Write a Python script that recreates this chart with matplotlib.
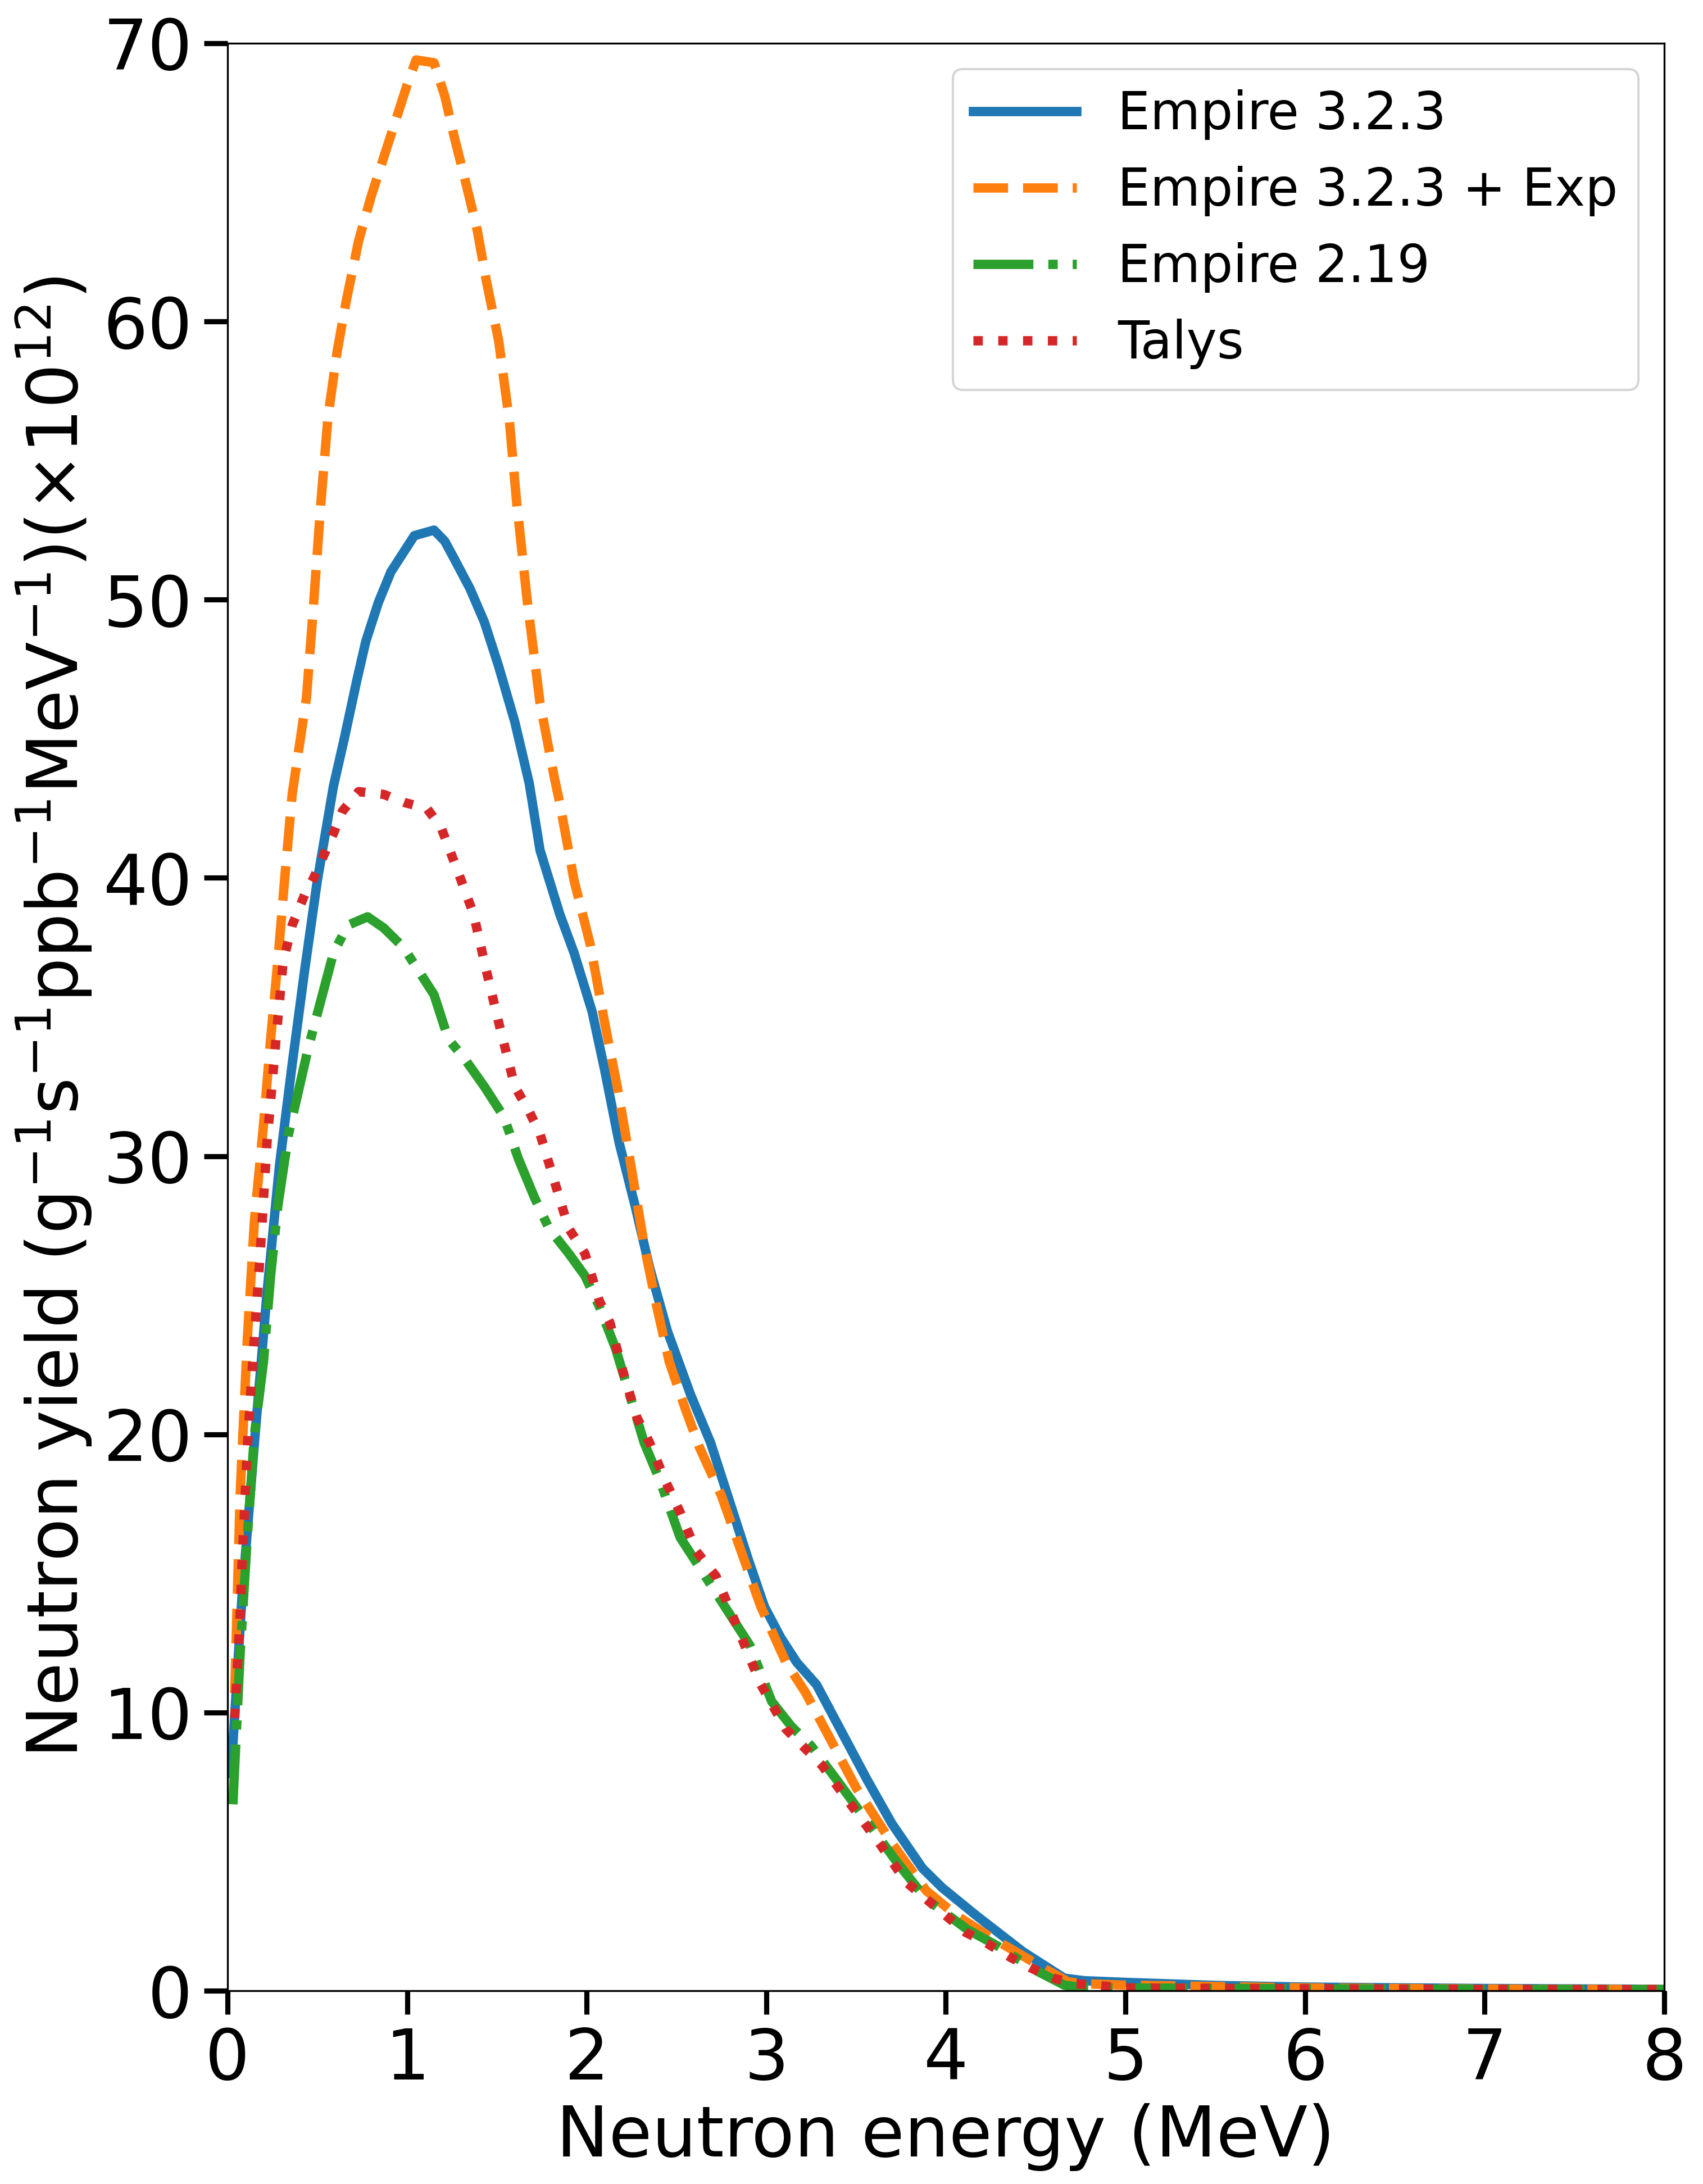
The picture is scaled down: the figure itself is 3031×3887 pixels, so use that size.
import matplotlib
matplotlib.use("Agg")
import matplotlib.pyplot as plt

# Empire 3.2.3
e_emp323 = [0.02, 0.08, 0.15, 0.22, 0.29, 0.36, 0.43, 0.50, 0.59, 0.65,
            0.72, 0.77, 0.84, 0.91, 0.98, 1.04, 1.15, 1.21, 1.26, 1.35,
            1.43, 1.51, 1.60, 1.68, 1.74, 1.85, 1.93, 2.03, 2.10, 2.18,
            2.27, 2.35, 2.45, 2.58, 2.69, 2.80, 2.90, 2.99, 3.08, 3.17,
            3.28, 3.42, 3.56, 3.70, 3.87, 3.98, 4.17, 4.31, 4.43, 4.66,
            4.77, 5.0, 5.5, 6.0, 7.0, 8.0]
y_emp323 = [7.8, 14.1, 19.7, 25.1, 29.7, 33.3, 36.7, 39.9, 43.3, 45.0,
            47.1, 48.5, 49.9, 51.0, 51.7, 52.3, 52.5, 52.1, 51.5, 50.4,
            49.2, 47.6, 45.6, 43.4, 41.0, 38.7, 37.3, 35.2, 33.1, 30.5,
            28.2, 26.0, 23.7, 21.4, 19.7, 17.5, 15.5, 13.8, 12.7, 11.8,
            11.0, 9.3, 7.6, 6.0, 4.4, 3.7, 2.7, 2.0, 1.4, 0.45,
            0.36, 0.3, 0.19, 0.13, 0.08, 0.05]

# Empire 3.2.3 + Exp
e_emp323exp = [0.04, 0.07, 0.11, 0.15, 0.20, 0.24, 0.28, 0.32, 0.36, 0.44,
               0.48, 0.52, 0.56, 0.61, 0.66, 0.73, 0.80, 0.90, 1.00, 1.05,
               1.15, 1.21, 1.26, 1.33, 1.39, 1.44, 1.51, 1.57, 1.61, 1.67,
               1.74, 1.82, 1.85, 1.93, 2.02, 2.10, 2.17, 2.24, 2.32, 2.39,
               2.46, 2.55, 2.63, 2.75, 2.86, 2.97, 3.11, 3.22, 3.36, 3.50,
               3.70, 3.89, 4.06, 4.23, 4.31, 4.54, 4.68, 4.77, 5.0, 6.0,
               7.0, 8.0]
y_emp323exp = [10.7, 17.8, 23.4, 27.7, 31.1, 34.2, 37.0, 40.1, 43.0, 46.5,
               49.9, 53.5, 56.6, 58.9, 60.7, 62.9, 64.5, 66.5, 68.5, 69.4,
               69.3, 68.1, 66.7, 64.9, 63.3, 61.5, 59.3, 56.4, 53.5, 49.9,
               46.3, 43.6, 42.7, 39.9, 37.6, 34.8, 32.5, 29.9, 26.8, 24.6,
               22.6, 20.9, 19.5, 17.8, 15.8, 13.8, 11.8, 10.7, 9.0, 7.3,
               5.3, 3.6, 2.7, 2.0, 1.7, 0.83, 0.32, 0.25, 0.2, 0.1,
               0.06, 0.04]

# Empire 2.19
e_emp219 = [0.03, 0.07, 0.11, 0.15, 0.20, 0.24, 0.28, 0.34, 0.39, 0.45,
            0.52, 0.59, 0.67, 0.78, 0.87, 0.98, 1.06, 1.15, 1.23, 1.32,
            1.43, 1.54, 1.62, 1.71, 1.79, 1.90, 1.99, 2.07, 2.16, 2.24,
            2.32, 2.41, 2.52, 2.63, 2.77, 2.91, 3.03, 3.14, 3.25, 3.39,
            3.56, 3.73, 3.89, 4.12, 4.29, 4.51, 4.66, 4.74, 5.0, 6.0,
            7.0, 8.0]
y_emp219 = [6.7, 12.1, 16.3, 20.0, 22.6, 25.7, 28.2, 30.8, 32.2, 33.9,
            35.6, 37.3, 38.3, 38.6, 38.2, 37.5, 36.7, 35.8, 34.2, 33.5,
            32.5, 31.4, 29.9, 28.5, 27.4, 26.5, 25.7, 24.6, 23.1, 21.4,
            19.7, 18.3, 16.3, 15.2, 13.8, 12.4, 10.4, 9.5, 8.8, 7.6,
            6.1, 4.6, 3.3, 2.2, 1.6, 0.7, 0.2, 0.13, 0.1, 0.07,
            0.05, 0.04]

# Talys
e_talys = [0.04, 0.07, 0.08, 0.11, 0.14, 0.18, 0.22, 0.27, 0.31, 0.36,
           0.43, 0.48, 0.59, 0.64, 0.73, 0.87, 0.99, 1.11, 1.19, 1.29,
           1.37, 1.44, 1.51, 1.60, 1.68, 1.74, 1.82, 1.90, 1.99, 2.07,
           2.13, 2.20, 2.28, 2.35, 2.44, 2.52, 2.61, 2.72, 2.83, 2.97,
           3.11, 3.31, 3.47, 3.63, 3.78, 4.0, 4.11, 4.23, 4.36, 4.47,
           4.60, 4.71, 5.0, 6.0, 7.0, 8.0]
y_talys = [9.8, 13.5, 15.2, 19.5, 22.6, 26.3, 30.5, 34.2, 37.0, 38.3,
           39.4, 40.0, 41.6, 42.4, 43.1, 43.0, 42.7, 42.5, 41.8, 40.1,
           38.7, 36.7, 34.8, 32.5, 31.6, 30.8, 29.1, 27.4, 26.5, 24.8,
           24.0, 22.3, 20.6, 19.7, 18.3, 17.2, 15.8, 14.9, 13.2, 11.0,
           9.4, 8.1, 6.7, 5.3, 3.9, 2.7, 2.1, 1.7, 1.2, 0.83,
           0.45, 0.26, 0.1, 0.07, 0.05, 0.04]

fig = plt.figure(figsize=(3031 / 300, 3887 / 300), dpi=300)
ax = fig.add_subplot(111)
fig.subplots_adjust(left=0.1336, right=0.9772, bottom=0.0885, top=0.9802)

ax.plot(e_emp323, y_emp323, '-', color='tab:blue', lw=4, label='Empire 3.2.3')
ax.plot(e_emp323exp, y_emp323exp, '--', color='tab:orange', lw=4, label='Empire 3.2.3 + Exp')
ax.plot(e_emp219, y_emp219, '-.', color='tab:green', lw=4, label='Empire 2.19')
ax.plot(e_talys, y_talys, ':', color='tab:red', lw=4, label='Talys')

ax.set_xlim(0, 8)
ax.set_ylim(0, 70)
ax.set_xticks(range(0, 9))
ax.set_yticks(range(0, 71, 10))
ax.tick_params(labelsize=30, length=10, width=2.2, pad=5)
for s in ax.spines.values():
    s.set_linewidth(0.8)

ax.set_xlabel('Neutron energy (MeV)', fontsize=30)
ax.set_ylabel(r'Neutron yield (g$^{-1}$s$^{-1}$ppb$^{-1}$MeV$^{-1}$)($\times$10$^{12}$)', fontsize=30)
ax.legend(loc='upper right', fontsize=22, labelspacing=0.5)

fig.savefig('out.png', dpi=300)
